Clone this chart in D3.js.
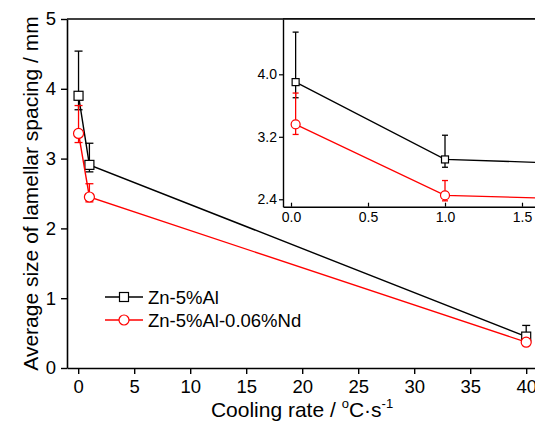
<!DOCTYPE html>
<html>
<head>
<meta charset="utf-8">
<script src="https://cdn.jsdelivr.net/npm/d3@7"></script>
<style>
  body { margin: 0; background: #fff; }
  svg { display: block; font-family: "Liberation Sans", Arial, sans-serif; }
  svg text { font-family: "Liberation Sans", Arial, sans-serif; }
</style>
</head>
<body>
<div id="wrapper"></div>
<script>
// cooling rate (°C/s)
const coolingRates = [0.03, 1, 40]
// Zn-5%Al
const alValues = [3.9, 2.91, 0.45]
const alErrUp = [4.54, 3.22, 0.61]
const alErrDown = [3.7, 2.81, 0.4]
// Zn-5%Al-0.06%Nd
const ndValues = [3.36, 2.45, 0.37]
const ndErrUp = [3.76, 2.64, 0.42]
const ndErrDown = [3.23, 2.38, 0.33]

const seriesNames = ["Zn-5%Al", "Zn-5%Al-0.06%Nd"]
const mainXTicks = [0, 5, 10, 15, 20, 25, 30, 35, 40]
const mainYTicks = [0, 1, 2, 3, 4, 5]
const insetXTicks = [0, 0.5, 1.0, 1.5]
const insetYTicks = [2.4, 3.2, 4.0]

const buildSeries = (vals, up, down) =>
    coolingRates.map((x, i) => ({x, y: vals[i], hi: up[i], lo: down[i]}))

const series = [
    {name: seriesNames[0], color: "#000", symbol: "square", points: buildSeries(alValues, alErrUp, alErrDown)},
    {name: seriesNames[1], color: "#ff0000", symbol: "circle", points: buildSeries(ndValues, ndErrUp, ndErrDown)},
]

function drawChart() {
    const width = 535, height = 428
    const svg = d3.select("#wrapper").append("svg")
        .attr("width", width)
        .attr("height", height)

    const defs = svg.append("defs")
    defs.append("clipPath").attr("id", "clipMain")
        .append("rect").attr("x", 67).attr("y", 19).attr("width", 480).attr("height", 349)
    defs.append("clipPath").attr("id", "clipInset")
        .append("rect").attr("x", 283).attr("y", 19).attr("width", 260).attr("height", 188)

    // main scales
    const xScale = d3.scaleLinear().domain([-1, 41.5]).range([67, 543])
    const yScale = d3.scaleLinear().domain([0, 5]).range([368, 19])

    // inset scales
    const ixScale = d3.scaleLinear().domain([-0.052, 1.75]).range([283, 560.5])
    const iyScale = d3.scaleLinear().domain([2.305, 4.708]).range([206.7, 19])

    // main data
    const mainG = svg.append("g").attr("clip-path", "url(#clipMain)")
    drawSeries(mainG, xScale, yScale, {cap: 4, sq: 9, r: 5, lw: 1.4})

    // main axes
    const xAxis = svg.append("g")
        .attr("transform", "translate(0,368)")
        .call(d3.axisBottom(xScale).tickValues(mainXTicks).tickSize(6).tickSizeOuter(0).tickFormat(d3.format("d")))
    const yAxis = svg.append("g")
        .attr("transform", "translate(67,0)")
        .call(d3.axisLeft(yScale).tickValues(mainYTicks).tickSize(6).tickSizeOuter(0).tickFormat(d3.format("d")))
    ;[xAxis, yAxis].forEach(a => {
        a.attr("font-family", null)
        a.select(".domain").attr("stroke-width", 1.6)
        a.selectAll(".tick line").attr("stroke-width", 1.4)
        a.selectAll(".tick text").attr("font-size", 18.5).attr("fill", "#000")
    })
    xAxis.selectAll(".tick text").attr("dy", "0.85em")
    yAxis.selectAll(".tick text").attr("x", -11)

    // top frame line
    svg.append("line")
        .attr("x1", 67).attr("x2", width).attr("y1", 19).attr("y2", 19)
        .attr("stroke", "#000").attr("stroke-width", 1.6)

    // axis titles
    svg.append("text")
        .attr("transform", `translate(38,${yScale(2.5)}) rotate(-90)`)
        .attr("text-anchor", "middle")
        .attr("font-size", 21)
        .text("Average size of lamellar spacing / mm")

    const xTitle = svg.append("text")
        .attr("x", 302).attr("y", 417)
        .attr("text-anchor", "middle")
        .attr("font-size", 21)
    xTitle.append("tspan").text("Cooling rate / ")
    xTitle.append("tspan").attr("font-size", 13).attr("dy", -9).text("o")
    xTitle.append("tspan").attr("dy", 9).text("C·s")
    xTitle.append("tspan").attr("font-size", 13).attr("dy", -9).text("-1")

    // legend
    const legend = svg.append("g")
    series.forEach((s, i) => {
        const ly = 297 + i * 23
        legend.append("line")
            .attr("x1", 105).attr("x2", 143).attr("y1", ly).attr("y2", ly)
            .attr("stroke", s.color).attr("stroke-width", 1.4)
        drawMarker(legend, 124, ly, s.symbol, s.color, 9, 5)
        legend.append("text")
            .attr("x", 148).attr("y", ly + 7)
            .attr("font-size", 18.5)
            .text(s.name)
    })

    // inset
    svg.append("rect")
        .attr("x", 283).attr("y", 19).attr("width", 260).attr("height", 188)
        .attr("fill", "#fff")
    const insetG = svg.append("g").attr("clip-path", "url(#clipInset)")
    drawSeries(insetG, ixScale, iyScale, {cap: 3, sq: 7, r: 4.5, lw: 1.3})

    const ixAxis = svg.append("g")
        .attr("transform", "translate(0,206.7)")
        .call(d3.axisBottom(ixScale).tickValues(insetXTicks).tickSize(-4).tickSizeOuter(0).tickFormat(d3.format(".1f")))
    const iyAxis = svg.append("g")
        .attr("transform", "translate(283,0)")
        .call(d3.axisLeft(iyScale).tickValues(insetYTicks).tickSize(4).tickSizeOuter(0).tickFormat(d3.format(".1f")))
    ;[ixAxis, iyAxis].forEach(a => {
        a.attr("font-family", null)
        a.select(".domain").attr("stroke-width", 1.4)
        a.selectAll(".tick line").attr("stroke-width", 1.2)
        a.selectAll(".tick text").attr("font-size", 14).attr("fill", "#000")
    })
    ixAxis.selectAll(".tick text").attr("y", 5).attr("dy", "0.71em")
    iyAxis.selectAll(".tick text").attr("x", -6)
    svg.append("line")
        .attr("x1", 283).attr("x2", width).attr("y1", 19).attr("y2", 19)
        .attr("stroke", "#000").attr("stroke-width", 1.6)
}

function drawSeries(g, xs, ys, opt) {
    series.forEach(s => {
        const line = d3.line().x(d => xs(d.x)).y(d => ys(d.y))
        g.append("path")
            .datum(s.points)
            .attr("d", line)
            .attr("fill", "none")
            .attr("stroke", s.color)
            .attr("stroke-width", opt.lw)
        s.points.forEach(p => {
            const px = xs(p.x)
            g.append("line")
                .attr("x1", px).attr("x2", px).attr("y1", ys(p.hi)).attr("y2", ys(p.lo))
                .attr("stroke", s.color).attr("stroke-width", 1.3)
            ;[p.hi, p.lo].forEach(v => {
                g.append("line")
                    .attr("x1", px - opt.cap).attr("x2", px + opt.cap)
                    .attr("y1", ys(v)).attr("y2", ys(v))
                    .attr("stroke", s.color).attr("stroke-width", 1.3)
            })
            drawMarker(g, px, ys(p.y), s.symbol, s.color, opt.sq, opt.r)
        })
    })
}

function drawMarker(g, x, y, symbol, color, sq, r) {
    if (symbol === "square") {
        g.append("rect")
            .attr("x", x - sq / 2).attr("y", y - sq / 2)
            .attr("width", sq).attr("height", sq)
            .attr("fill", "#fff").attr("stroke", color).attr("stroke-width", 1.2)
    } else {
        g.append("circle")
            .attr("cx", x).attr("cy", y).attr("r", r)
            .attr("fill", "#fff").attr("stroke", color).attr("stroke-width", 1.2)
    }
}

drawChart()
</script>
</body>
</html>
